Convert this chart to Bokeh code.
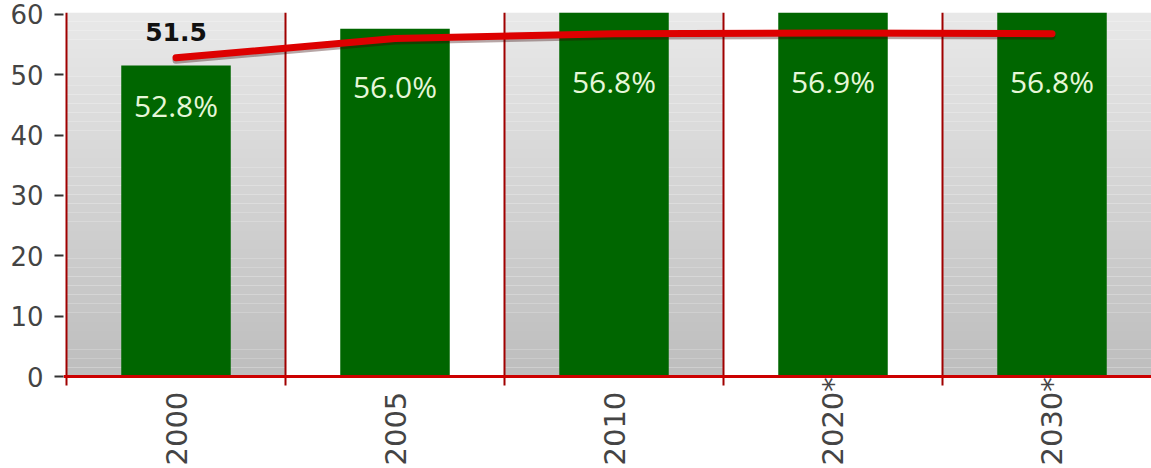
import math
from bokeh.plotting import figure
from bokeh.models import Range1d, FixedTicker, ColumnDataSource
from bokeh.core.properties import value
from bokeh.embed import file_html
from bokeh.resources import INLINE

# ---- data ----
years = ["2000", "2005", "2010", "2020*", "2030*"]
bar_values = [51.5, 57.6, 63.0, 68.0, 72.0]
bar_labels = ["51.5", "57.6", "63.0", "68.0", "72.0"]
share_values = [52.8, 56.0, 56.8, 56.9, 56.8]
share_labels = ["52.8%", "56.0%", "56.8%", "56.9%", "56.8%"]
y_ticks = [0, 10, 20, 30, 40, 50, 60]

n = len(years)
centers = [i + 0.5 for i in range(n)]

W, H = 1151, 468
AXIS_X, TOP, AXIS_Y = 66, 12, 376     # pixel positions of the axes
PAD = 3                                # frame starts a little left of the y axis
CAT_PX = 219.0
Y_TOP = 60.3
px_per_unit = (AXIS_Y - TOP) / Y_TOP
Y_BOT = -(H - AXIS_Y) / px_per_unit
X0 = -PAD / CAT_PX

p = figure(width=W, height=H,
           x_range=Range1d(X0, (W - AXIS_X) / CAT_PX), y_range=Range1d(Y_BOT, Y_TOP),
           output_backend="svg", toolbar_location=None,
           min_border_left=AXIS_X - PAD, min_border_right=0,
           min_border_top=TOP, min_border_bottom=0)
p.outline_line_color = None
p.grid.visible = False
p.background_fill_color = "white"
p.border_fill_color = "white"
p.xaxis.visible = False

# alternating grey gradient bands
N = 40
lefts, rights, bottoms, tops, cols = [], [], [], [], []
for i in range(0, n, 2):
    for k in range(N):
        t = k / (N - 1)
        g = int(round(0xbe + (0xe8 - 0xbe) * t))
        lefts.append(i); rights.append(i + 1)
        bottoms.append(Y_TOP * k / N); tops.append(Y_TOP * (k + 1) / N)
        cols.append("#%02x%02x%02x" % (g, g, g))
p.quad(left=lefts, right=rights, bottom=bottoms, top=tops,
       fill_color=cols, line_color=None)

# category boundaries (incl. y-axis line) with small ticks below the x axis
TICK = 9 / px_per_unit
bx = list(range(0, n + 1))
p.segment(x0=bx, y0=[-TICK] * len(bx), x1=bx, y1=[Y_TOP] * len(bx),
          line_color="#a00000", line_width=2)

src = ColumnDataSource(dict(x=centers, bar=bar_values, blab=bar_labels,
                            share=share_values, slab=share_labels,
                            shadow=[v - 2.5 / px_per_unit for v in share_values]))

p.vbar(x="x", top="bar", width=0.5, bottom=0, source=src,
       fill_color="#006600", line_color=None)

# x axis line
p.segment(x0=[X0], y0=[0], x1=[(W - AXIS_X) / CAT_PX], y1=[0],
          line_color="#cc0000", line_width=3)

p.line(x="x", y="shadow", source=src, line_color="#300000", line_alpha=0.35,
       line_width=7, line_cap="round", line_join="round")
p.line(x="x", y="share", source=src, line_color="#dd0000", line_width=7,
       line_cap="round", line_join="round")

# bar value labels (only those that fall inside the plot area)
LAB_OFF = 34
vis = [i for i in range(n) if bar_values[i] + (LAB_OFF + 10) / px_per_unit <= Y_TOP]
vsrc = ColumnDataSource(dict(x=[centers[i] for i in vis],
                             y=[bar_values[i] for i in vis],
                             t=[bar_labels[i] for i in vis]))
p.text(x="x", y="y", text="t", source=vsrc, text_align="center",
       text_baseline="middle", y_offset=-LAB_OFF,
       text_font=value("DejaVu Sans"), text_font_style="bold",
       text_font_size="25px", text_color="#111111")

p.text(x="x", y="share", text="slab", source=src, text_align="center",
       text_baseline="middle", y_offset=48,
       text_font=value("Open Sans"), text_font_size="30px",
       text_color="#e6f7d8")

# category labels below the axis
lab_y = -89 / px_per_unit
xl = ColumnDataSource(dict(x=centers, y=[lab_y] * n, t=years))
p.text(x="x", y="y", text="t", source=xl, angle=math.pi / 2,
       text_align="left", text_baseline="middle",
       text_font=value("DejaVu Sans"), text_font_size="29px",
       text_color="#444444")

# y axis
ya = p.yaxis[0]
ya.ticker = FixedTicker(ticks=y_ticks)
ya.axis_line_color = None
ya.major_tick_line_color = "#333333"
ya.major_tick_line_width = 2
ya.major_tick_out = 9
ya.major_tick_in = 0
ya.minor_tick_line_color = None
ya.major_label_standoff = 11
ya.major_label_text_font = "DejaVu Sans"
ya.major_label_text_font_size = "26px"
ya.major_label_text_color = "#444444"

open("out.html", "w").write(file_html(p, INLINE))
